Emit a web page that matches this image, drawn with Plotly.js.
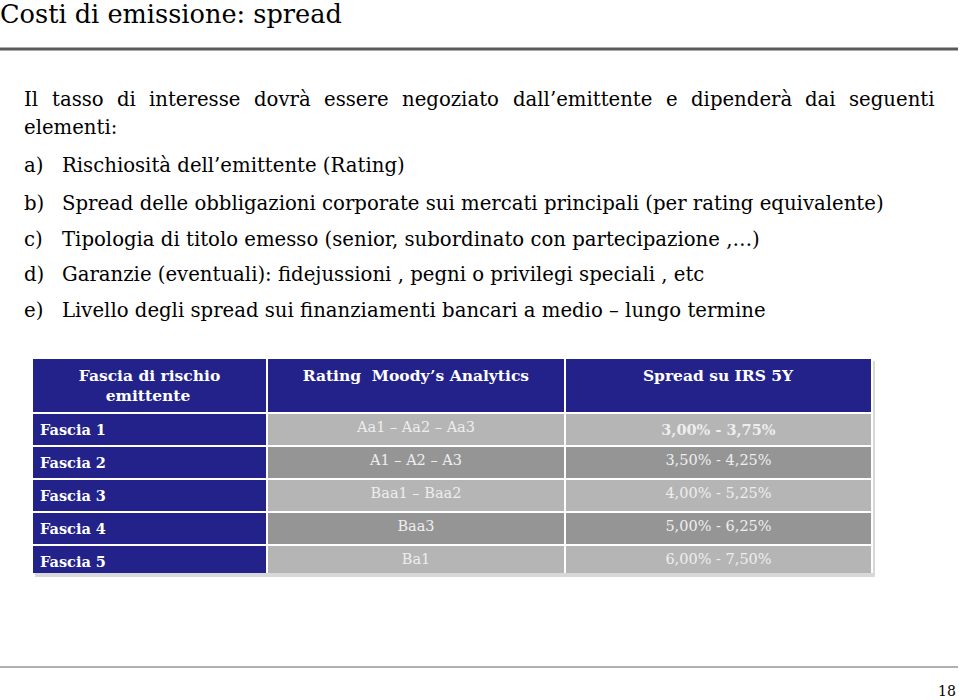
<!DOCTYPE html>
<html>
<head>
<meta charset="utf-8">
<script src="https://cdn.plot.ly/plotly-3.0.1.min.js"></script>
<style>html,body{margin:0;padding:0;background:#fff;}#chart{width:960px;height:700px;}</style>
</head>
<body>
<div id="chart"></div>
<script>
const slideTitle = "Costi di emissione: spread";
const introLine1 = "Il tasso di interesse dovrà essere negoziato dall\u2019emittente e dipenderà dai seguenti";
const introLine2 = "elementi:";
const itemLetters = ["a)", "b)", "c)", "d)", "e)"];
const itemTexts = [
  "Rischiosità dell\u2019emittente (Rating)",
  "Spread delle obbligazioni corporate sui mercati principali (per rating equivalente)",
  "Tipologia di titolo emesso (senior, subordinato con partecipazione ,\u2026)",
  "Garanzie (eventuali): fidejussioni , pegni o privilegi speciali , etc",
  "Livello degli spread sui finanziamenti bancari a medio \u2013 lungo termine"
];
const headerLine1 = ["Fascia di rischio", "Rating  Moody\u2019s Analytics", "Spread su IRS 5Y"];
const headerLine2 = ["emittente", "", ""];
const fasce = ["Fascia 1", "Fascia 2", "Fascia 3", "Fascia 4", "Fascia 5"];
const ratings = ["Aa1 \u2013 Aa2 \u2013 Aa3", "A1 \u2013 A2 \u2013 A3", "Baa1 \u2013 Baa2", "Baa3", "Ba1"];
const spreads = ["<b>3,00% - 3,75%</b>", "3,50% - 4,25%", "4,00% - 5,25%", "5,00% - 6,25%", "6,00% - 7,50%"];
const pageNumber = "18";

const W = 960, H = 700;
const px = x => x / W;
const py = y => 1 - y / H;
const FONT = "DejaVu Serif";

const ctx = document.createElement("canvas").getContext("2d");
function measure(text, size, bold) {
  ctx.font = (bold ? "bold " : "") + size + "px '" + FONT + "'";
  return ctx.measureText(text).width;
}
const bodySize = Math.min(20, 20 * 822 / measure(itemTexts[1], 20));
const titleSize = Math.min(28, 28 * 342 / measure(slideTitle, 28));

const annotations = [];
function addText(text, x, y, size, opts) {
  annotations.push(Object.assign({
    text: text, x: px(x), y: py(y), xref: "paper", yref: "paper",
    xanchor: "left", yanchor: "middle", showarrow: false,
    font: {family: FONT, size: size, color: "#000"}
  }, opts || {}));
}

addText(slideTitle, -2, 14, titleSize);

// justified first line
const words = introLine1.split(" ");
const widths = words.map(w => measure(w, bodySize));
const left = 24, right = 935;
const gap = (right - left - widths.reduce((a, b) => a + b, 0)) / (words.length - 1);
let cx = left;
words.forEach((w, i) => { addText(w, cx - 2, 99, bodySize); cx += widths[i] + gap; });
addText(introLine2, left - 2, 127, bodySize);

const itemY = [166, 203, 239, 274, 310];
itemLetters.forEach((l, i) => {
  addText(l, 22, itemY[i], bodySize);
  addText(itemTexts[i], 60, itemY[i], bodySize);
});

addText(pageNumber, 936, 691, 14);

// header: centre each line of the two-line label individually
const headSize = 15.5;
const nbspW = measure("\u00a0", headSize, true);
const headerLabels = headerLine1.map((l1, i) => {
  const l2 = headerLine2[i];
  if (!l2) return "<b>" + l1 + "</b>";
  const diff = measure(l1, headSize, true) - measure(l2, headSize, true);
  const pad = "\u00a0".repeat(Math.max(0, Math.round(diff / 2 / nbspW)));
  return "<b>" + l1 + "<br>" + pad + l2 + "</b>";
});

const blue = "#22228a", light = "#b5b5b5", dark = "#959595";
const rowFill = fasce.map((f, i) => i % 2 === 0 ? light : dark);

const tableTop = 358, tableBottom = 574, tableLeft = 32, tableRight = 872;
const headerH = 54, rowH = 32.4;

const trace = {
  type: "table",
  domain: {x: [px(tableLeft), px(tableRight)], y: [py(tableBottom), py(tableTop)]},
  columnwidth: [235, 298, 307],
  header: {
    values: headerLabels.map(h => [h]),
    fill: {color: blue},
    line: {color: "#ffffff", width: 2},
    align: "center",
    height: headerH,
    font: {family: FONT, size: headSize, color: "#ffffff"}
  },
  cells: {
    values: [fasce.map(f => "<b>" + f + "</b>"), ratings, spreads],
    fill: {color: [fasce.map(() => blue), rowFill, rowFill]},
    line: {color: "#ffffff", width: 2},
    align: ["left", "center", "center"],
    height: rowH,
    font: {family: FONT, size: 14.5, color: ["#ffffff", "#eeeeee", "#eeeeee"]}
  }
};

const shapes = [
  {type: "line", xref: "paper", yref: "paper", x0: px(0), x1: px(958), y0: py(49), y1: py(49),
   line: {color: "#5a5a5a", width: 3}},
  {type: "line", xref: "paper", yref: "paper", x0: px(0), x1: px(958), y0: py(667), y1: py(667),
   line: {color: "#b0b0b0", width: 2}},
  {type: "rect", xref: "paper", yref: "paper", layer: "below",
   x0: px(tableLeft + 3), x1: px(tableRight + 3), y0: py(tableBottom + 3), y1: py(tableTop + 3),
   fillcolor: "#d8d8d8", line: {width: 0}}
];

const layout = {
  width: W, height: H,
  margin: {l: 0, r: 0, t: 0, b: 0},
  paper_bgcolor: "#ffffff",
  plot_bgcolor: "#ffffff",
  showlegend: false,
  annotations: annotations,
  shapes: shapes
};

Plotly.newPlot("chart", [trace], layout, {displayModeBar: false, staticPlot: true});
</script>
</body>
</html>
